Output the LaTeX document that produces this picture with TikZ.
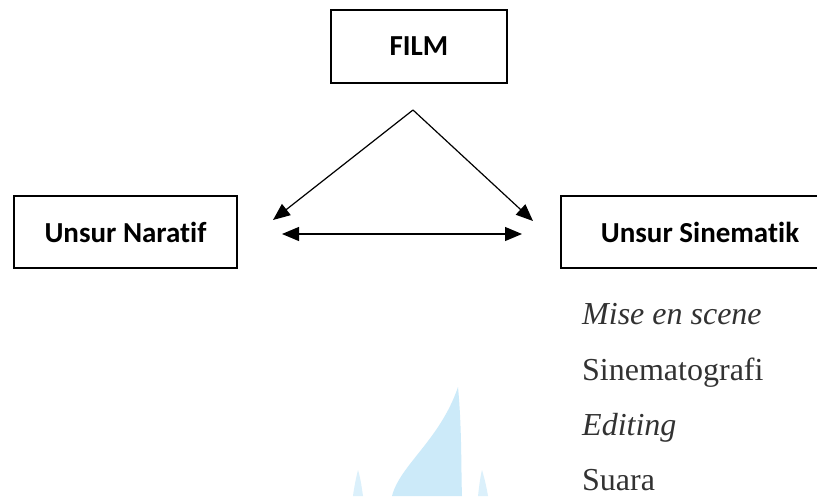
\documentclass[tikz,border=0pt]{standalone}
\usepackage{fontspec}
\setmainfont{Liberation Serif}
\newfontfamily\calib[Ligatures=NoCommon]{Carlito}
\usetikzlibrary{arrows.meta}
\definecolor{wmblue}{RGB}{204,234,249}
\definecolor{txtgray}{RGB}{50,50,50}
\tikzset{
  boxnode/.style={draw=black, line width=2.8pt, rectangle, inner sep=0pt,
    font=\calib\bfseries\fontsize{29}{34}\selectfont, text=black},
  tip/.style={Triangle[length=17pt,width=14pt]},
  conn/.style={line width=1.2pt, -{Triangle[length=17pt,width=14pt]}},
  listitem/.style={anchor=base west, inner sep=0pt, text=txtgray,
    font=\fontsize{32}{38}\selectfont},
}
\begin{document}
\begin{tikzpicture}[x=1pt,y=-1pt]
\useasboundingbox (0,0) rectangle (817,496);
\fill[white] (0,0) rectangle (817,496);
% watermark
\fill[wmblue] (458,387) .. controls (462,430) and (461,470) .. (462,496)
  -- (392,496) .. controls (400,465) and (440,440) .. (458,387) -- cycle;
\fill[wmblue!70] (358,470) .. controls (361,480) and (362,490) .. (363,496)
  -- (353,496) .. controls (354,488) and (356,478) .. (358,470) -- cycle;
\fill[wmblue!70] (482,470) .. controls (485,480) and (487,490) .. (488,496)
  -- (478,496) .. controls (479,488) and (480,478) .. (482,470) -- cycle;
% boxes
\node[boxnode, minimum width=176pt, minimum height=73pt] (film) at (419,46.5) {FILM};
\node[boxnode, minimum width=223pt, minimum height=72pt] (nar) at (125.5,232) {Unsur Naratif};
\node[boxnode, minimum width=278pt, minimum height=72pt] (sin) at (700,232) {Unsur Sinematik};
% connector points
\coordinate (apex) at (413,110);
\coordinate (tipL) at (273,220);
\coordinate (tipR) at (533,221);
\coordinate (hL) at (282,234);
\coordinate (hR) at (522,234);
\draw[conn] (apex) -- (tipL);
\draw[conn] (apex) -- (tipR);
\draw[line width=1.2pt, {Triangle[length=17pt,width=14pt]}-{Triangle[length=17pt,width=14pt]}] (hL) -- (hR);
% list
\node[listitem] (l1) at (582,324) {\itshape Mise en scene};
\node[listitem] (l2) at (582,380) {Sinematografi};
\node[listitem] (l3) at (582,435) {\itshape Editing};
\node[listitem] (l4) at (582,490) {Suara};
\end{tikzpicture}
\end{document}
